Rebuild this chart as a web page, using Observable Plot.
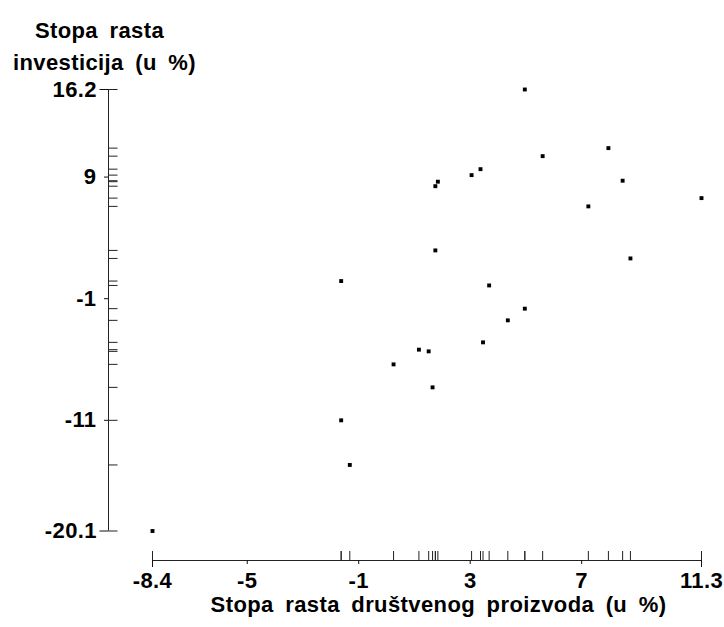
<!DOCTYPE html>
<html>
<head>
<meta charset="utf-8">
<script src="https://cdn.jsdelivr.net/npm/d3@7"></script>
<script src="https://cdn.jsdelivr.net/npm/@observablehq/plot@0.6"></script>
<style>
  html, body { margin: 0; padding: 0; background: #fff; }
  #chart svg { display: block; }
</style>
</head>
<body>
<div id="chart"></div>
<script>
// Growth rate of social product (x) vs. growth rate of investment (y), in %
const gdpGrowth = [
  4.96, 5.6, 7.96, 8.47, 7.24, 11.3, 8.75, 3.37, 3.05, 1.84, 1.75, 1.75,
  -1.63, 3.68, 4.96, 4.35, 3.46, 1.16, 1.51, 0.25, 1.65, -1.63, -1.32, -8.4
];
const investmentGrowth = [
  16.2, 10.72, 11.38, 8.7, 6.59, 7.27, 2.31, 9.65, 9.16, 8.62, 8.25, 2.97,
  0.45, 0.09, -1.82, -2.78, -4.59, -5.19, -5.33, -6.4, -8.29, -11.0, -14.67, -20.1
];
const xTickValues = [-5, -1, 3, 7];
const yTickValues = [-11, -1, 9];

const yTitle = ["Stopa rasta", "investicija (u %)"];
const xTitle = "Stopa rasta društvenog proizvoda (u %)";

const points = gdpGrowth.map((g, i) => ({gdp: g, inv: investmentGrowth[i]}));
const xExtent = d3.extent(gdpGrowth);
const yExtent = d3.extent(investmentGrowth);

// Layout: the axis lines sit offset from the data (range-frame style)
const W = 724, H = 627;
const M = {top: 89, right: 23, bottom: 67, left: 108};
const OFFSET_X = 44;   // gap between y-axis line and first x value
const OFFSET_Y = 29.5; // gap between x-axis line and lowest y value
const RUG = 9;         // length of the data ticks along the axes
const frameW = W - M.left - M.right;
const frameH = H - M.top - M.bottom;
const fmt = d => String(d);

const chart = Plot.plot({
  width: W,
  height: H,
  marginTop: M.top,
  marginRight: M.right,
  marginBottom: M.bottom,
  marginLeft: M.left,
  style: {
    fontFamily: "'Liberation Sans', Arial, Helvetica, sans-serif",
    fontSize: "22px",
    fontWeight: "bold",
    letterSpacing: "0.4px",
    wordSpacing: "5px",
    color: "#111",
    background: "#fff"
  },
  x: {domain: xExtent, insetLeft: OFFSET_X},
  y: {domain: yExtent, insetBottom: OFFSET_Y},
  marks: [
    // axis lines spanning only the data range
    Plot.ruleY([yExtent[0]], {x1: xExtent[0], x2: xExtent[1], dy: OFFSET_Y, stroke: "#222"}),
    Plot.ruleX([xExtent[0]], {y1: yExtent[0], y2: yExtent[1], dx: -OFFSET_X, stroke: "#222"}),
    // rug ticks: one per observation on each axis
    Plot.tickX(points, {x: "gdp", insetTop: frameH - RUG, stroke: "#222"}),
    Plot.tickY(points, {y: "inv", insetRight: frameW - RUG - 0.5, stroke: "#222"}),
    // labelled ticks
    Plot.axisX(xTickValues, {tickSize: 4, tickPadding: 8, tickFormat: fmt, label: null, fill: "#000"}),
    Plot.axisX(xExtent, {tickSize: 7, tickPadding: 5, tickFormat: fmt, label: null, fill: "#000"}),
    Plot.axisY(yTickValues, {tickSize: 4, tickPadding: 8, tickFormat: fmt, label: null, fill: "#000"}),
    Plot.axisY(yExtent, {tickSize: 8.5, tickPadding: 3, tickFormat: fmt, label: null, fill: "#000"}),
    // observations
    Plot.dot(points, {x: "gdp", y: "inv", symbol: "square", r: 2.2, fill: "#000", stroke: null}),
    // titles
    Plot.text([yTitle[0]], {frameAnchor: "top-left", dx: -9, dy: -67, textAnchor: "middle", fill: "#000"}),
    Plot.text([yTitle[1]], {frameAnchor: "top-left", dx: -4, dy: -35, textAnchor: "middle", fill: "#000"}),
    Plot.text([xTitle], {frameAnchor: "bottom", dx: 33.5, dy: 51.5, textAnchor: "middle", fill: "#000"})
  ]
});

document.getElementById("chart").append(chart);
</script>
</body>
</html>
